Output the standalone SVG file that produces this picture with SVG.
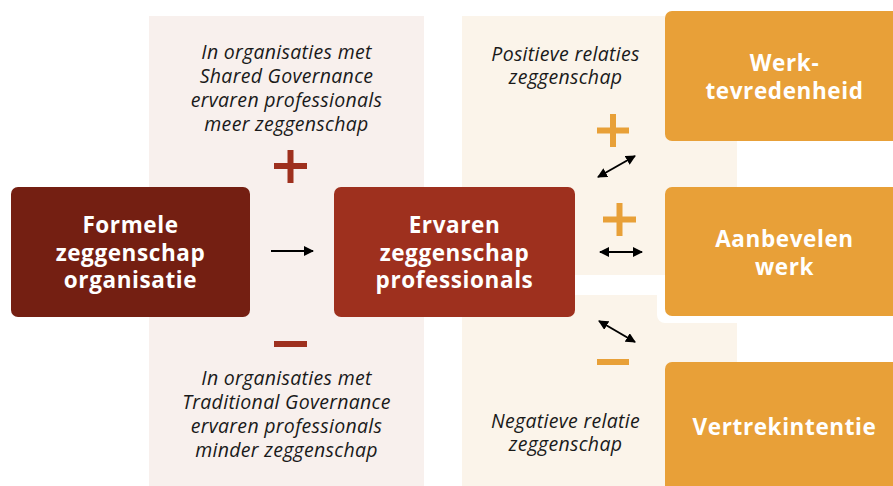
<svg xmlns="http://www.w3.org/2000/svg" width="893" height="486" viewBox="0 0 893 486">
<style>
.note{font-family:"Open Sans","Liberation Sans",sans-serif;font-style:italic;font-size:19.5px;letter-spacing:0.3px;fill:#1a1a1a;text-anchor:middle}
.lbl{font-family:"Open Sans","Liberation Sans",sans-serif;font-weight:700;font-size:22.5px;letter-spacing:0.6px;fill:#ffffff;text-anchor:middle}
.dark{fill:#741f12}
.red{fill:#9e301e}
.orange{fill:#e8a038}
.conn{stroke:#000;stroke-width:2;fill:none}
</style>
<defs>
<marker id="ah" viewBox="0 0 10 10" refX="9" refY="5" markerWidth="5" markerHeight="5" orient="auto-start-reverse">
<path d="M0,0 L10,5 L0,10 Z" fill="#000"/>
</marker>
</defs>
<rect width="893" height="486" fill="#fff"/>
<g id="panels">
<rect x="149" y="16" width="275" height="470" fill="#f8f0ed"/>
<rect x="462" y="16" width="275" height="259" fill="#fbf4ea"/>
<path d="M462,295 H657 V315 A8,8 0 0 0 665,323 H737 V486 H462 Z" fill="#fbf4ea"/>
</g>
<g id="signs">
<rect x="274" y="163" width="33" height="6" class="red"/>
<rect x="287.5" y="150" width="6" height="33" class="red"/>
<rect x="274" y="341" width="33" height="6" class="red"/>
<rect x="597" y="127.5" width="32" height="6" class="orange"/>
<rect x="610" y="114" width="6" height="33" class="orange"/>
<rect x="603" y="216.5" width="33" height="6" class="orange"/>
<rect x="616.5" y="203" width="6" height="33" class="orange"/>
<rect x="597" y="359" width="32" height="6" class="orange"/>
</g>
<g id="notes">
<text class="note"><tspan x="286.5" y="59">In organisaties met</tspan><tspan x="286.5" y="83">Shared Governance</tspan><tspan x="286.5" y="107">ervaren professionals</tspan><tspan x="286.5" y="131">meer zeggenschap</tspan></text>
<text class="note"><tspan x="286.5" y="385">In organisaties met</tspan><tspan x="286.5" y="409">Traditional Governance</tspan><tspan x="286.5" y="433">ervaren professionals</tspan><tspan x="286.5" y="457">minder zeggenschap</tspan></text>
<text class="note"><tspan x="565.5" y="61">Positieve relaties</tspan><tspan x="565.5" y="84">zeggenschap</tspan></text>
<text class="note"><tspan x="565.5" y="428">Negatieve relatie</tspan><tspan x="565.5" y="451">zeggenschap</tspan></text>
</g>
<g id="connectors">
<line class="conn" x1="271" y1="251" x2="313" y2="251" marker-end="url(#ah)"/>
<line class="conn" x1="598" y1="177" x2="635" y2="156" marker-start="url(#ah)" marker-end="url(#ah)"/>
<line class="conn" x1="600" y1="252" x2="642" y2="252" marker-start="url(#ah)" marker-end="url(#ah)"/>
<line class="conn" x1="599" y1="321" x2="635" y2="342" marker-start="url(#ah)" marker-end="url(#ah)"/>
</g>
<g id="formele">
<rect x="11" y="187" width="239" height="130" rx="7" class="dark"/>
<text class="lbl"><tspan x="130.5" y="233">Formele</tspan><tspan x="130.5" y="261">zeggenschap</tspan><tspan x="130.5" y="288">organisatie</tspan></text>
</g>
<g id="ervaren">
<rect x="334" y="187" width="241" height="130" rx="7" class="red"/>
<text class="lbl"><tspan x="454.5" y="233">Ervaren</tspan><tspan x="454.5" y="261">zeggenschap</tspan><tspan x="454.5" y="288">professionals</tspan></text>
</g>
<g id="werk">
<rect x="665" y="11" width="239" height="130" rx="7" class="orange"/>
<text class="lbl"><tspan x="784.5" y="71">Werk-</tspan><tspan x="784.5" y="99">tevredenheid</tspan></text>
</g>
<g id="aanbevelen">
<rect x="665" y="187" width="239" height="129" rx="7" class="orange"/>
<text class="lbl"><tspan x="784.5" y="247">Aanbevelen</tspan><tspan x="784.5" y="275">werk</tspan></text>
</g>
<g id="vertrek">
<rect x="665" y="362" width="239" height="140" rx="7" class="orange"/>
<text class="lbl" x="784.5" y="435">Vertrekintentie</text>
</g>
</svg>
